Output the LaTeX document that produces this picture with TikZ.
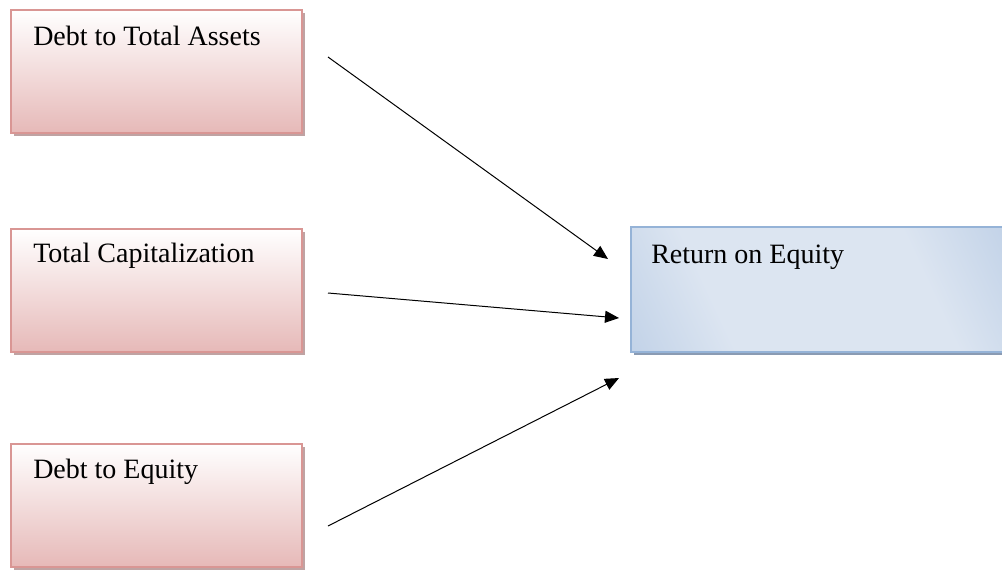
\documentclass[tikz,border=0pt]{standalone}
\usepackage{fontspec}
\setmainfont{Liberation Serif}
\usetikzlibrary{calc}
\usetikzlibrary{arrows.meta}
\usetikzlibrary{shadows}
\definecolor{pinkline}{HTML}{D99694}
\definecolor{pinkfill}{HTML}{E6B9B8}
\definecolor{pinkshadow}{HTML}{BFA3A3}
\definecolor{blueline}{HTML}{95B3D7}
\definecolor{bluedark}{HTML}{A7BFDE}
\definecolor{bluelight}{HTML}{DCE5F1}
\definecolor{blueshadow}{HTML}{8A9BB3}
\pgfdeclarehorizontalshading{roeshade}{100bp}{color(0bp)=(bluedark); color(33bp)=(bluelight); color(67bp)=(bluelight); color(100bp)=(bluedark)}

\begin{document}
\begin{tikzpicture}[x=0.75pt,y=-0.75pt,
  pinkbox/.style={draw=pinkline,line width=1.5pt,top color=white,bottom color=pinkfill,
    minimum width=218.25pt,minimum height=92.25pt,inner sep=0pt,outer sep=0pt,
    drop shadow={shadow xshift=2.5pt,shadow yshift=-2.5pt,fill=pinkshadow,opacity=1}},
  bluebox/.style={draw=blueline,line width=1.5pt,shading=roeshade,shading angle=25,
    minimum width=282pt,minimum height=93.75pt,inner sep=0pt,outer sep=0pt,
    drop shadow={shadow xshift=2.5pt,shadow yshift=-2.5pt,fill=blueshadow,opacity=1}},
  boxtext/.style={anchor=base west,inner sep=0pt,font=\fontsize{21}{25}\selectfont},
  link/.style={black,line width=0.75pt,-{Triangle[length=10.5pt,width=9pt]}}]

\useasboundingbox (0,0) rectangle (1002,569);

\node[pinkbox] (dta) at (156.5,71.5) {};
\node[pinkbox] (tc) at (156.5,290.5) {};
\node[pinkbox] (dte) at (156.5,505) {};
\node[bluebox] (roe) at (819,289.5) {};

\node[boxtext] (dtaText) at ($(dta.north west)+(22,35)$) {Debt to Total Assets};
\node[boxtext] (tcText) at ($(tc.north west)+(22,33)$) {Total Capitalization};
\node[boxtext] (dteText) at ($(dte.north west)+(22,35)$) {Debt to Equity};
\node[boxtext] (roeText) at ($(roe.north west)+(20,36)$) {Return on Equity};

\coordinate (s1) at (328,57);
\coordinate (e1) at (608,259);
\coordinate (s2) at (328,293);
\coordinate (e2) at (619,318);
\coordinate (s3) at (328,526);
\coordinate (e3) at (619,378);

\draw[link] (s1) -- (e1);
\draw[link] (s2) -- (e2);
\draw[link] (s3) -- (e3);
\end{tikzpicture}
\end{document}
